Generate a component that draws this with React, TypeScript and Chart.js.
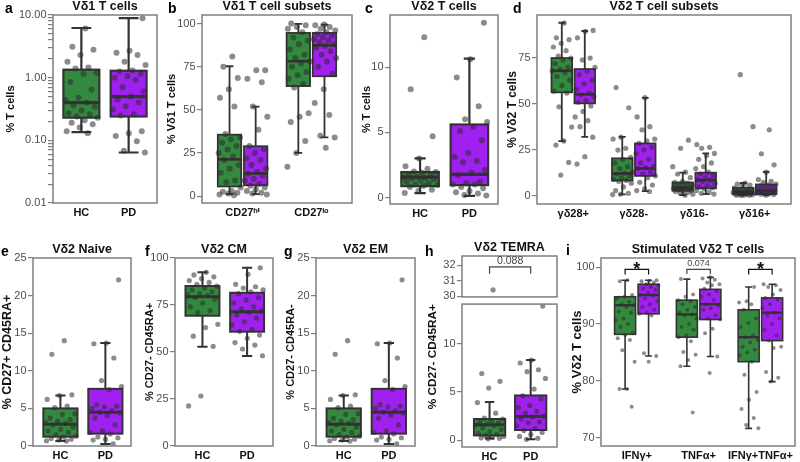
import React, { useEffect, useRef } from 'react';
import { Chart, registerables } from 'chart.js';

Chart.register(...registerables);

const FONT = '"Liberation Sans", Arial, "DejaVu Sans", sans-serif';
Chart.defaults.font.family = FONT;

const HC_FILL = '#338a3e';
const PD_FILL = '#a020f0';
const DOT = 'rgba(45,45,45,0.55)';
const INK = '#333333';
const FRAME = '#7f7f7f';

// ---------- data ----------
// Box statistics are [lower whisker, Q1, median, Q3, upper whisker].
const groups = ['HC', 'PD'];

// a: Vδ1 T cells (% of T cells, log axis)
const aDecades = [0.01, 0.1, 1, 10];
const aBoxHC = [0.135, 0.23, 0.4, 1.34, 6.2];
const aBoxPD = [0.064, 0.24, 0.5, 1.29, 8.9];
const aHC = [6.1, 3.1, 2.8, 2.3, 1.8, 1.45, 1.4, 1.2, 1.15, 0.85, 0.65, 0.48, 0.44, 0.4, 0.36, 0.34, 0.3, 0.27, 0.26, 0.24, 0.23, 0.21, 0.19, 0.18, 0.16, 0.14, 0.13];
const aPD = [8.9, 2.7, 2.5, 2.3, 1.8, 1.6, 1.3, 1.25, 1.15, 1.05, 1.0, 0.93, 0.7, 0.6, 0.5, 0.45, 0.4, 0.35, 0.31, 0.26, 0.25, 0.14, 0.13, 0.117, 0.097, 0.068, 0.064];

// b: Vδ1 T cell subsets
const bCategories = ['CD27ʰⁱ', 'CD27ˡᵒ'];
const bBoxHiHC = [1.1, 5.6, 21.3, 35.6, 75.3];
const bBoxHiPD = [1.1, 6.3, 13.2, 28.9, 51.9];
const bBoxLoHC = [25.1, 63.8, 78.2, 94.6, 99.8];
const bBoxLoPD = [34.1, 69.5, 87.4, 94.6, 99.4];
const bHiHC = [81, 75, 68.5, 62, 57, 52, 36, 34, 33, 31, 29, 27, 25, 23, 21, 18, 16, 13.5, 9, 8, 5, 3, 2.5, 2, 1.5, 1, 0.5];
const bHiPD = [73, 73, 68, 66, 52, 46, 38.5, 29, 27, 25, 22, 21, 18, 16, 14, 13, 12, 10, 9, 7, 6, 5, 4, 3, 2, 1.5, 1];
const bLoHC = [100, 99, 98, 97, 95, 92, 90, 88, 85, 82, 80, 78, 77, 75, 72, 70, 68, 65, 63, 48, 46, 43, 32, 25, 17];
const bLoPD = [99.5, 99, 98, 97, 96, 95, 94, 93, 92, 91, 90, 89, 88, 87, 86, 84, 82, 80, 78, 75, 71, 62, 54, 47, 35, 34, 28];

// c: Vδ2 T cells
const cBoxHC = [0.33, 0.87, 1.56, 1.95, 3.0];
const cBoxPD = [0.13, 0.95, 1.77, 5.6, 10.66];
const cHC = [12.3, 8.3, 4.7, 3.0, 2.4, 2.2, 2.0, 1.95, 1.9, 1.8, 1.7, 1.6, 1.55, 1.5, 1.45, 1.4, 1.3, 1.2, 1.1, 1.0, 0.95, 0.9, 0.8, 0.6, 0.5, 0.35];
const cPD = [13.4, 10.6, 9.2, 7.0, 6.0, 5.8, 5.4, 5.1, 4.4, 3.4, 3.1, 2.8, 2.7, 2.1, 1.9, 1.7, 1.2, 1.1, 1.0, 1.0, 0.8, 0.7, 0.5, 0.4, 0.3, 0.2, 0.15];

// d: Vδ2 T cell subsets
const dCategories = ['γδ28+', 'γδ28-', 'γδ16-', 'γδ16+'];
const dBox28pHC = [29.9, 56.4, 68.1, 75, 94.2];
const dBox28pPD = [32.2, 50.4, 55.3, 69.0, 89.7];
const dBox28mHC = [0.9, 8.5, 12.3, 20.5, 32.2];
const dBox28mPD = [2.7, 11.0, 15.0, 28.6, 53.4];
const dBox16mHC = [0.5, 2.9, 4.5, 7.4, 12.7];
const dBox16mPD = [1.1, 4.2, 8.7, 12.7, 23.2];
const dBox16pHC = [0.5, 1.1, 2.4, 4.5, 7.1];
const dBox16pPD = [0.5, 1.1, 2.9, 6.3, 13.2];
const d28pHC = [94, 86, 85, 83, 81, 79, 76, 75, 74, 72, 70, 69, 68, 67, 65, 63, 60, 57, 56, 48.5, 37.5, 30, 27.7, 18.3, 11.4];
const d28pPD = [90, 89.5, 86, 75, 74, 70, 68, 66, 63, 61, 58, 56, 55, 54, 52, 51, 49, 46, 43, 41, 37.7, 32, 21.4, 17.4];
const d28mHC = [59, 48, 32, 31, 26, 25, 21, 20, 18, 16, 15, 13, 12.5, 12, 11, 10, 9, 8.5, 8, 7, 5, 3, 1.5, 1, 0.8];
const d28mPD = [53.5, 43, 37.7, 36, 31, 30, 28.6, 26.5, 25, 23, 20, 18, 16, 15.5, 15, 13, 12, 11, 10, 7.5, 6, 4, 3, 2.5];
const d16mHC = [30.4, 26, 16, 13, 12, 10, 8, 7.5, 7, 6.5, 6, 5.5, 5, 4.8, 4.5, 4.2, 4, 3.5, 3, 2.8, 2.5, 2, 1.5, 1, 0.5];
const d16mPD = [28, 26.5, 26, 23.2, 22, 20, 18, 16, 15, 13, 12, 11, 10, 9, 8.7, 8, 7, 6, 5, 4.5, 4, 3, 2, 1.5, 1.1];
const d16pHC = [66, 37.7, 7, 6.5, 6, 5.5, 4.5, 4, 3.5, 3, 2.7, 2.5, 2.4, 2.2, 2, 1.8, 1.5, 1.3, 1.2, 1.1, 1, 0.9, 0.8, 0.6, 0.5, 0.4, 0.3];
const d16pPD = [36, 23, 17, 13, 9, 8, 7.5, 6.5, 6, 5.5, 5, 4.5, 4, 3.5, 3, 2.9, 2.5, 2.2, 2, 1.8, 1.5, 1.2, 1, 0.8, 0.5];

// e: Vδ2 naive
const eBoxHC = [0.66, 1.24, 2.9, 5.0, 6.7];
const eBoxPD = [0.27, 1.64, 4.5, 7.6, 13.7];
const eHC = [14, 12.2, 6.8, 6.7, 6.2, 5.3, 5.1, 4.3, 4.2, 3.7, 3.5, 3.3, 3.1, 3.0, 2.8, 2.5, 2.2, 2.0, 1.8, 1.5, 1.3, 1.2, 1.0, 0.9, 0.8, 0.7, 0.66];
const ePD = [22.1, 13.7, 13.6, 11.7, 8.7, 7.9, 7.5, 5.5, 5.3, 5.2, 5.0, 4.7, 4.5, 4.4, 4.1, 3.7, 2.8, 2.0, 1.8, 1.6, 1.2, 1.1, 0.9, 0.8, 0.3];

// f: Vδ2 central memory
const fBoxHC = [52.8, 69.3, 79.4, 85.1, 92.4];
const fBoxPD = [47.9, 60.8, 71.4, 81.5, 94.8];
const fHC = [92.4, 91, 90, 89, 88, 87, 86, 85, 84, 83, 82, 81, 80.5, 80, 79, 78, 76, 74, 72, 71, 64.7, 63, 58.4, 53, 26.6, 21.3];
const fPD = [94.8, 91.3, 86, 84.7, 84, 83, 82, 81, 79, 77.7, 76, 74, 73, 72, 71, 69.7, 68, 66, 64.4, 62, 61, 59, 57.3, 55, 53.7, 51.6, 48];

// g: Vδ2 effector memory
const gBoxHC = [0.66, 1.24, 2.9, 5.0, 6.7];
const gBoxPD = [0.27, 1.64, 4.5, 7.6, 13.7];
const gHC = [14, 12.2, 6.8, 6.7, 6.2, 5.3, 5.1, 4.3, 4.2, 3.7, 3.5, 3.3, 3.1, 3.0, 2.8, 2.5, 2.2, 2.0, 1.8, 1.5, 1.3, 1.2, 1.0, 0.9, 0.8, 0.7, 0.66];
const gPD = [22.1, 13.7, 13.6, 11.7, 8.7, 7.9, 7.5, 5.5, 5.3, 5.2, 5.0, 4.7, 4.5, 4.4, 4.1, 3.7, 2.8, 2.0, 1.8, 1.6, 1.2, 1.1, 0.9, 0.8, 0.3];

// h: Vδ2 TEMRA (broken axis)
const hBoxHC = [0.17, 0.5, 1.6, 2.2, 3.95];
const hBoxPD = [0.1, 1.06, 2.47, 4.64, 8.3];
const hHC = [30.4, 6.9, 6.1, 5.4, 3.9, 2.8, 2.3, 2.2, 2.0, 1.9, 1.8, 1.7, 1.6, 1.5, 1.3, 1.1, 0.9, 0.7, 0.6, 0.5, 0.4, 0.3, 0.25, 0.2, 0.15];
const hPD = [13.9, 8.3, 8.0, 7.3, 7.1, 6.4, 5.3, 4.6, 4.3, 3.6, 3.4, 3.0, 2.8, 2.5, 2.4, 2.2, 1.9, 1.8, 1.5, 1.2, 1.0, 0.8, 0.6, 0.4, 0.2, 0.1];
const hPValue = '0.088';

// i: stimulated Vδ2 T cells
const iCategories = ['IFNγ+', 'TNFα+', 'IFNγ+TNFα+'];
const iBoxIfnHC = [78.6, 88.2, 93.3, 94.8, 97.7];
const iBoxIfnPD = [84.4, 91.8, 95.1, 97.0, 97.7];
const iBoxTnfHC = [82.6, 87.7, 91.7, 94.2, 97.9];
const iBoxTnfPD = [84.3, 90.8, 93.5, 96.1, 98.2];
const iBoxBothHC = [71.7, 83.4, 87.7, 92.5, 96.5];
const iBoxBothPD = [79.9, 87.1, 92.0, 94.6, 97.0];
const iIfnHC = [97.7, 97.5, 95.1, 94.8, 94.5, 93.9, 93.5, 93.3, 93, 92.2, 92, 91, 90.7, 90, 89.5, 88.5, 88.1, 87.5, 87.2, 85.4, 83.4, 78.6, 78.6, 75.5];
const iIfnPD = [97.7, 97.6, 97.5, 97.3, 97.0, 96.8, 96.5, 96.2, 96, 95.5, 95.1, 95, 94.5, 94, 93.5, 93, 92.5, 92, 91.8, 91.5, 84.9, 84.4, 83.4];
const iTnfHC = [97.9, 95.2, 94.8, 94.2, 94, 93.5, 93, 92.5, 92, 91.7, 91.5, 91, 90, 89.5, 89, 88, 87.7, 87, 85.1, 84.6, 83.7, 82.6, 74.5];
const iTnfPD = [98.2, 98, 97.8, 97.3, 97, 96.8, 96.2, 95.8, 95.2, 94.8, 94.2, 93.5, 93.2, 92.8, 92.5, 91.5, 91, 90.8, 89.2, 88.4, 84.3, 81.4];
const iBothHC = [96.5, 94, 93.8, 93.5, 92.5, 91, 90.2, 89.5, 88, 87.7, 87.2, 86.8, 86, 85.5, 85, 84.5, 83.4, 81.1, 78.1, 76.7, 75.1, 73.5, 72.3, 71.7];
const iBothPD = [97.0, 96.8, 96.5, 96, 95.2, 94.6, 94.3, 93.5, 92.8, 92, 91.5, 91, 90, 89, 88, 87.1, 86, 85.8, 81.6, 80.6, 79.9];
const iPLabels = ['*', '0.074', '*'];

// ---------- panel descriptions ----------
type Series = { x: number; fill: string; box: number[] | null; pts: number[] };
type Bracket = { from: number; to: number; y: number; leg: number; label: string; size: number; bold: boolean; dy: number; color: string };
type Panel = {
  key: string;
  title?: string;
  plot: number[]; // chart area: left, top, right, bottom (page px)
  left: number; // canvas left edge
  xh: number; // x-axis band height
  cats: string[];
  xMin: number; xMax: number;
  yMin: number; yMax: number; yStep?: number; log?: boolean;
  yTitle?: string; yTitleSize?: number; yTitlePad?: number; yTitleAlign?: 'center' | 'end';
  series: Series[];
  boxW: number; capFrac: number; jitterW: number; radius: number; lw: number;
  brackets?: Bracket[];
};

const two = (boxHC: number[] | null, hc: number[], boxPD: number[] | null, pd: number[]): Series[] => [
  { x: 1, fill: HC_FILL, box: boxHC, pts: hc },
  { x: 2, fill: PD_FILL, box: boxPD, pts: pd },
];
const pair = (k: number, boxHC: number[], hc: number[], boxPD: number[], pd: number[]): Series[] => [
  { x: k - 0.19, fill: HC_FILL, box: boxHC, pts: hc },
  { x: k + 0.19, fill: PD_FILL, box: boxPD, pts: pd },
];

const pairStyle = { boxW: 0.76, capFrac: 0.3, jitterW: 0.72, radius: 2.6, lw: 2 };
const multiStyle = { boxW: 0.34, capFrac: 0.33, jitterW: 0.34, radius: 2.6, lw: 1.8 };

const panels: Panel[] = [
  {
    key: 'a', title: 'Vδ1 T cells', plot: [53, 15, 159, 203], left: 0, xh: 22, cats: groups,
    xMin: 0.4, xMax: 2.6, yMin: 0.01, yMax: 10, log: true,
    yTitle: '% T cells', yTitleSize: 11, yTitlePad: 4,
    series: two(aBoxHC, aHC, aBoxPD, aPD),
    ...pairStyle, capFrac: 0.55, radius: 3, lw: 2.2,
  },
  {
    key: 'b', title: 'Vδ1 T cell subsets', plot: [202, 15, 354, 203], left: 162, xh: 22, cats: bCategories,
    xMin: 0.41, xMax: 2.59, yMin: -4, yMax: 105, yStep: 25,
    yTitle: '% Vδ1 T cells', yTitleSize: 11, yTitlePad: 3.5,
    series: [...pair(1, bBoxHiHC, bHiHC, bBoxHiPD, bHiPD), ...pair(2, bBoxLoHC, bLoHC, bBoxLoPD, bLoPD)],
    ...multiStyle, radius: 3,
  },
  {
    key: 'c', title: 'Vδ2 T cells', plot: [390, 15, 500, 204], left: 356, xh: 22, cats: groups,
    xMin: 0.39, xMax: 2.58, yMin: -0.5, yMax: 14, yStep: 5,
    yTitle: '% T cells', yTitleSize: 11, yTitlePad: 4,
    series: two(cBoxHC, cHC, cBoxPD, cPD),
    ...pairStyle, radius: 3, lw: 2.2,
  },
  {
    key: 'd', title: 'Vδ2 T cell subsets', plot: [537, 15, 793, 204], left: 502, xh: 22, cats: dCategories,
    xMin: 0.4, xMax: 4.6, yMin: -4.3, yMax: 98.4, yStep: 25,
    yTitle: '% Vδ2 T cells', yTitleSize: 12, yTitlePad: 3.3,
    series: [
      ...pair(1, dBox28pHC, d28pHC, dBox28pPD, d28pPD),
      ...pair(2, dBox28mHC, d28mHC, dBox28mPD, d28mPD),
      ...pair(3, dBox16mHC, d16mHC, dBox16mPD, d16mPD),
      ...pair(4, dBox16pHC, d16pHC, dBox16pPD, d16pPD),
    ],
    ...multiStyle,
  },
  {
    key: 'e', title: 'Vδ2 Naive', plot: [33, 258, 133, 446], left: 0, xh: 16, cats: groups,
    xMin: 0.39, xMax: 2.57, yMin: 0, yMax: 25, yStep: 5,
    yTitle: '% CD27+ CD45RA+', yTitleSize: 12.5, yTitlePad: 0,
    series: two(eBoxHC, eHC, eBoxPD, ePD),
    ...pairStyle,
  },
  {
    key: 'f', title: 'Vδ2 CM', plot: [175, 258, 275, 446], left: 139, xh: 16, cats: groups,
    xMin: 0.385, xMax: 2.58, yMin: 0, yMax: 100, yStep: 25,
    yTitle: '% CD27- CD45RA+', yTitleSize: 11, yTitlePad: 4.4,
    series: two(fBoxHC, fHC, fBoxPD, fPD),
    ...pairStyle,
  },
  {
    key: 'g', title: 'Vδ2 EM', plot: [316, 258, 417, 446], left: 280, xh: 16, cats: groups,
    xMin: 0.385, xMax: 2.58, yMin: 0, yMax: 25, yStep: 5,
    yTitle: '% CD27- CD45RA-', yTitleSize: 11, yTitlePad: 4.4,
    series: two(gBoxHC, gHC, gBoxPD, gPD),
    ...pairStyle,
  },
  {
    key: 'h-top', title: 'Vδ2 TEMRA', plot: [462, 256, 559, 298], left: 422, xh: 0, cats: [],
    xMin: 0.33, xMax: 2.64, yMin: 29.95, yMax: 32.6, yStep: 1,
    series: two(null, hHC, null, hPD),
    ...pairStyle,
    brackets: [{ from: 1, to: 2, y: 31.9, leg: 31.45, label: hPValue, size: 10.5, bold: false, dy: -2.5, color: '#444' }],
  },
  {
    key: 'h', plot: [462, 303, 559, 447], left: 422, xh: 15, cats: groups,
    xMin: 0.33, xMax: 2.64, yMin: -0.7, yMax: 14.1, yStep: 5,
    yTitle: '% CD27- CD45RA+', yTitleSize: 11.8, yTitlePad: 3.4, yTitleAlign: 'end',
    series: two(hBoxHC, hHC, hBoxPD, hPD),
    ...pairStyle,
  },
  {
    key: 'i', title: 'Stimulated Vδ2 T cells', plot: [601, 258, 797, 446], left: 562, xh: 16, cats: iCategories,
    xMin: 0.42, xMax: 3.56, yMin: 68.6, yMax: 101.6, yStep: 10,
    yTitle: '% Vδ2 T cells', yTitleSize: 13, yTitlePad: 8,
    series: [
      ...pair(1, iBoxIfnHC, iIfnHC, iBoxIfnPD, iIfnPD),
      ...pair(2, iBoxTnfHC, iTnfHC, iBoxTnfPD, iTnfPD),
      ...pair(3, iBoxBothHC, iBothHC, iBoxBothPD, iBothPD),
    ],
    ...multiStyle, jitterW: 0.32, radius: 2, lw: 1.6,
    brackets: [
      { from: 0.81, to: 1.19, y: 99.6, leg: 98.7, label: iPLabels[0], size: 18, bold: true, dy: 5.5, color: '#111' },
      { from: 1.81, to: 2.19, y: 99.6, leg: 98.8, label: iPLabels[1], size: 9, bold: false, dy: -3, color: '#444' },
      { from: 2.81, to: 3.19, y: 99.6, leg: 98.7, label: iPLabels[2], size: 18, bold: true, dy: 5.5, color: '#111' },
    ],
  },
];

const letters: [string, number, number][] = [
  ['a', 5, 1], ['b', 168, 1], ['c', 365, 1], ['d', 513, 1],
  ['e', 1, 244], ['f', 145, 244], ['g', 284, 244], ['h', 425, 244], ['i', 566, 243],
];

// ---------- drawing ----------
const isDecade = (v: number) => Math.abs(Math.log10(v) - Math.round(Math.log10(v))) < 1e-9;

function logTicks(decades: number[]) {
  const out: { value: number }[] = [];
  for (let d = 0; d < decades.length - 1; d++) {
    for (let k = 1; k < 10; k++) out.push({ value: Number((k * decades[d]).toPrecision(6)) });
  }
  out.push({ value: decades[decades.length - 1] });
  return out;
}

function geom(p: Panel) {
  const [, t, r, b] = p.plot;
  const top = t - (p.title ? 16 : 7);
  const bottom = b + (p.cats.length ? p.xh : 7);
  return { left: p.left, top, width: r + 2 - p.left, height: bottom - top };
}

function boxPlugin(p: Panel) {
  return {
    id: 'box-' + p.key,
    beforeDatasetsDraw(chart: any) {
      const { ctx } = chart;
      const xs = chart.scales.x;
      const ys = chart.scales.y;
      ctx.save();
      for (const s of p.series) {
        if (!s.box) continue;
        const [lo, q1, med, q3, hi] = s.box.map((v) => ys.getPixelForValue(v));
        const xl = xs.getPixelForValue(s.x - p.boxW / 2);
        const xr = xs.getPixelForValue(s.x + p.boxW / 2);
        const xc = xs.getPixelForValue(s.x);
        const cap = ((xr - xl) * p.capFrac) / 2;
        ctx.strokeStyle = INK;
        ctx.lineWidth = p.lw;
        ctx.lineCap = 'butt';
        ctx.beginPath();
        ctx.moveTo(xc, hi); ctx.lineTo(xc, q3);
        ctx.moveTo(xc, q1); ctx.lineTo(xc, lo);
        ctx.moveTo(xc - cap, hi); ctx.lineTo(xc + cap, hi);
        ctx.moveTo(xc - cap, lo); ctx.lineTo(xc + cap, lo);
        ctx.stroke();
        ctx.fillStyle = s.fill;
        ctx.fillRect(xl, q3, xr - xl, q1 - q3);
        ctx.strokeRect(xl, q3, xr - xl, q1 - q3);
        ctx.lineWidth = p.lw * 1.5;
        ctx.beginPath();
        ctx.moveTo(xl, med); ctx.lineTo(xr, med);
        ctx.stroke();
      }
      ctx.restore();
    },
    afterDatasetsDraw(chart: any) {
      const { ctx, chartArea } = chart;
      const xs = chart.scales.x;
      const ys = chart.scales.y;
      ctx.save();
      ctx.strokeStyle = FRAME;
      ctx.lineWidth = 1.5;
      ctx.strokeRect(chartArea.left, chartArea.top, chartArea.right - chartArea.left, chartArea.bottom - chartArea.top);
      for (const br of p.brackets ?? []) {
        const x1 = xs.getPixelForValue(br.from);
        const x2 = xs.getPixelForValue(br.to);
        const y = ys.getPixelForValue(br.y);
        const yl = ys.getPixelForValue(br.leg);
        ctx.strokeStyle = br.color;
        ctx.lineWidth = 1.2;
        ctx.beginPath();
        ctx.moveTo(x1, yl); ctx.lineTo(x1, y); ctx.lineTo(x2, y); ctx.lineTo(x2, yl);
        ctx.stroke();
        ctx.fillStyle = br.color;
        ctx.font = `${br.bold ? 'bold ' : ''}${br.size}px ${FONT}`;
        ctx.textAlign = 'center';
        ctx.textBaseline = 'alphabetic';
        ctx.fillText(br.label, (x1 + x2) / 2, y + br.dy);
      }
      ctx.restore();
    },
  };
}

function buildConfig(p: Panel): any {
  const [l] = p.plot;
  const hasX = p.cats.length > 0;
  const datasets = p.series.map((s, si) => ({
    data: s.pts
      .map((v, i) => ({ x: s.x + ((((i + 1) * 0.6180339887 + si * 0.29) % 1) - 0.5) * p.jitterW, y: v }))
      .filter((pt) => pt.y >= p.yMin && pt.y <= p.yMax),
    pointRadius: p.radius,
    pointBackgroundColor: DOT,
    pointBorderWidth: 0,
    showLine: false,
  }));
  return {
    type: 'scatter',
    data: { datasets },
    options: {
      responsive: false,
      animation: false,
      events: [],
      layout: { padding: { top: p.title ? 0 : 7, right: 2, bottom: hasX ? 0 : 7, left: 0 } },
      plugins: {
        legend: { display: false },
        tooltip: { enabled: false },
        title: p.title
          ? {
              display: true,
              text: p.title,
              fullSize: false,
              color: '#111',
              font: { family: FONT, size: 12.5, weight: 'bold', lineHeight: 1.2 },
              padding: { top: 0, bottom: 1 },
            }
          : { display: false },
      },
      scales: {
        x: {
          type: 'linear',
          display: hasX,
          min: p.xMin,
          max: p.xMax,
          afterBuildTicks: (s: any) => {
            s.ticks = p.cats.map((_, i) => ({ value: i + 1 }));
          },
          afterFit: (s: any) => {
            s.height = p.xh;
          },
          ticks: {
            autoSkip: false,
            maxRotation: 0,
            minRotation: 0,
            padding: 3,
            color: '#111',
            font: { family: FONT, size: 11, weight: 'bold' },
            callback: (v: any) => p.cats[Math.round(Number(v)) - 1] ?? '',
          },
          grid: { display: false, drawTicks: false },
          border: { display: false },
        },
        y: {
          type: p.log ? 'logarithmic' : 'linear',
          min: p.yMin,
          max: p.yMax,
          afterBuildTicks: p.log
            ? (s: any) => {
                s.ticks = logTicks(aDecades);
              }
            : undefined,
          afterFit: (s: any) => {
            s.width = l - p.left;
          },
          ticks: {
            stepSize: p.yStep,
            includeBounds: false,
            autoSkip: false,
            padding: 1.5,
            color: '#4d4d4d',
            font: { family: FONT, size: 11 },
            callback: p.log
              ? (v: any) => (isDecade(Number(v)) ? Number(v).toFixed(2) : '')
              : (v: any) => String(v),
          },
          grid: { drawOnChartArea: false, drawTicks: true, tickLength: 5, color: FRAME, lineWidth: 1.2 },
          border: { display: false },
          title: p.yTitle
            ? {
                display: true,
                text: p.yTitle,
                align: p.yTitleAlign ?? 'center',
                color: '#111',
                font: { family: FONT, size: p.yTitleSize ?? 11, weight: 'bold', lineHeight: 1.2 },
                padding: { top: p.yTitlePad ?? 4, bottom: 0 },
              }
            : { display: false },
        },
      },
    },
    plugins: [boxPlugin(p)],
  };
}

function PanelChart({ p }: { p: Panel }) {
  const ref = useRef<HTMLCanvasElement>(null);
  const g = geom(p);
  useEffect(() => {
    if (!ref.current) return;
    const chart = new Chart(ref.current, buildConfig(p));
    return () => chart.destroy();
  }, [p]);
  return (
    <canvas
      ref={ref}
      width={g.width}
      height={g.height}
      style={{ position: 'absolute', left: g.left, top: g.top, width: g.width, height: g.height }}
    />
  );
}

export default function App() {
  return (
    <div
      style={{
        position: 'fixed',
        left: 0,
        top: 0,
        width: 800,
        height: 462,
        background: '#ffffff',
        overflow: 'hidden',
        fontFamily: FONT,
      }}
    >
      {panels.map((p) => (
        <PanelChart key={p.key} p={p} />
      ))}
      {letters.map(([t, x, y]) => (
        <div
          key={t}
          style={{
            position: 'absolute',
            left: x,
            top: y,
            fontSize: 14,
            lineHeight: '14px',
            fontWeight: 'bold',
            color: '#000',
          }}
        >
          {t}
        </div>
      ))}
    </div>
  );
}
